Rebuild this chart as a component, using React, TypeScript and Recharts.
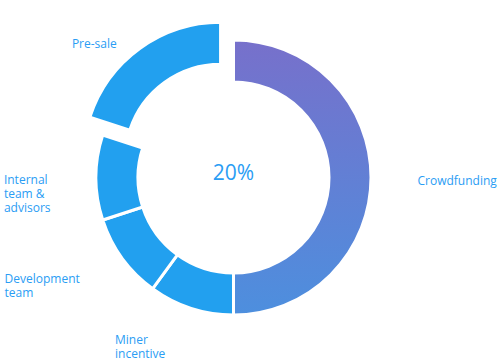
import React from "react";
import { Cell, Label, Pie, PieChart } from "recharts";

const names = ["Crowdfunding", "Miner incentive", "Development team", "Internal team & advisors", "Pre-sale"];
const shares = [50, 10, 10, 10, 20];
const labelLines = [
  ["Crowdfunding"],
  ["Miner", "incentive"],
  ["Development", "team"],
  ["Internal", "team &", "advisors"],
  ["Pre-sale"],
];
const highlighted = "Pre-sale";

const data = names.map((name, i) => ({ name, value: shares[i], lines: labelLines[i] }));

const BLUE = "#22a0ef";
const TEXT = "#2a9df4";
const FONT = "'Open Sans', sans-serif";
const RADIAN = Math.PI / 180;
const CX = 233.5;
const CY = 177.5;
const OUTER = 137.5;
const INNER = 95.5;
const EXPLODE = 22;

// small hand nudges so the labels sit where the original puts them
const nudge: Record<string, [number, number]> = {
  Crowdfunding: [-1, 3],
  "Miner incentive": [-11, -7],
  "Development team": [-4, -1],
  "Internal team & advisors": [2, 16],
  "Pre-sale": [-8, 16],
};

let ctx: CanvasRenderingContext2D | null = null;
function textWidth(s: string) {
  if (!ctx) ctx = document.createElement("canvas").getContext("2d");
  if (!ctx) return s.length * 6.5;
  ctx.font = `12px ${FONT}`;
  return ctx.measureText(s).width;
}

const total = shares.reduce((a, b) => a + b, 0);
const hiIndex = names.indexOf(highlighted);
const before = shares.slice(0, hiIndex).reduce((a, b) => a + b, 0);
const hiMid = 90 - ((before + shares[hiIndex] / 2) / total) * 360;
const hiCx = CX + EXPLODE * Math.cos(hiMid * RADIAN);
const hiCy = CY - EXPLODE * Math.sin(hiMid * RADIAN);

function renderLabel(props: any) {
  const { midAngle, index } = props;
  const item = data[index];
  const r = 185;
  const [nx, ny] = nudge[item.name] || [0, 0];
  const px = CX + r * Math.cos(-midAngle * RADIAN) + nx;
  const py = CY + r * Math.sin(-midAngle * RADIAN) + ny;
  const lh = 14;
  const w = Math.max(...item.lines.map(textWidth));
  const left = Math.cos(-midAngle * RADIAN) < 0 ? px - w : px;
  const top = py - ((item.lines.length - 1) * lh) / 2;
  return (
    <g key={item.name}>
      {item.lines.map((l, i) => (
        <text key={i} x={left} y={top + i * lh} fill={TEXT} fontSize={12} fontFamily={FONT} dominantBaseline="central">
          {l}
        </text>
      ))}
    </g>
  );
}

export default function App() {
  return (
    <div style={{ position: "fixed", left: 0, top: 0, width: 503, height: 363, background: "#fff" }}>
      <svg width={0} height={0} style={{ position: "absolute" }}>
        <defs>
          <linearGradient id="crowd" x1="0" y1="0" x2="0" y2="1">
            <stop offset="0%" stopColor="#7770cb" />
            <stop offset="100%" stopColor="#4d8fde" />
          </linearGradient>
        </defs>
      </svg>
      <PieChart width={503} height={363} margin={{ top: 0, right: 0, bottom: 0, left: 0 }}>
        <Pie
          data={data}
          dataKey="value"
          nameKey="name"
          cx={CX}
          cy={CY}
          innerRadius={INNER}
          outerRadius={OUTER}
          startAngle={90}
          endAngle={-270}
          stroke="#fff"
          strokeWidth={3}
          label={renderLabel}
          labelLine={false}
          isAnimationActive={false}
        >
          {data.map((d, i) => (
            <Cell
              key={d.name}
              fill={i === hiIndex ? "transparent" : i === 0 ? "url(#crowd)" : BLUE}
              stroke={i === hiIndex ? "none" : "#fff"}
            />
          ))}
          <Label
            position="center"
            content={() => (
              <text x={CX} y={CY - 6} textAnchor="middle" dominantBaseline="central" fill={TEXT} fontSize={21} fontFamily={FONT}>
                {`${Math.round((shares[hiIndex] / total) * 100)}%`}
              </text>
            )}
          />
        </Pie>
        <Pie
          data={data}
          dataKey="value"
          nameKey="name"
          cx={hiCx}
          cy={hiCy}
          innerRadius={INNER}
          outerRadius={OUTER}
          startAngle={90}
          endAngle={-270}
          stroke="#fff"
          strokeWidth={3}
          isAnimationActive={false}
        >
          {data.map((d, i) => (
            <Cell key={d.name} fill={i === hiIndex ? BLUE : "transparent"} stroke={i === hiIndex ? "#fff" : "none"} />
          ))}
        </Pie>
      </PieChart>
    </div>
  );
}
